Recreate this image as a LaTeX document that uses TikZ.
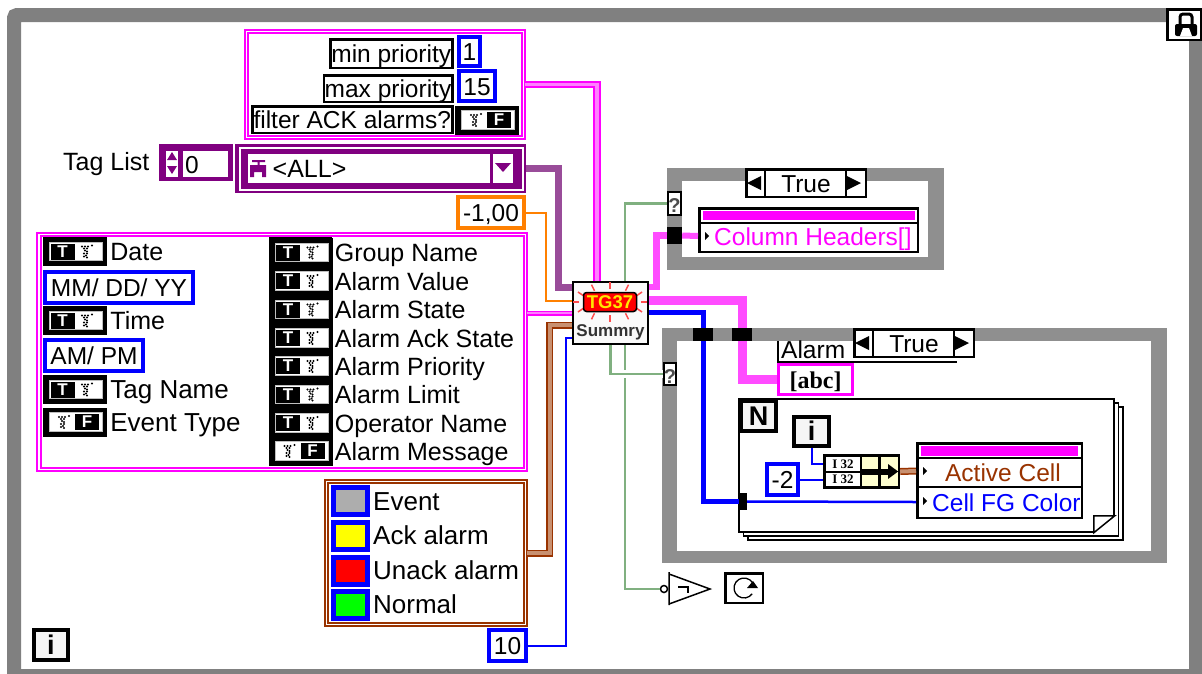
\documentclass[tikz,border=0pt]{standalone}
\usepackage{fontspec}
\setmainfont{Liberation Sans}
\newfontfamily\serf{Liberation Serif}
\usetikzlibrary{arrows.meta,positioning,calc}
\definecolor{pnk}{HTML}{FF00FF}
\definecolor{pnkl}{HTML}{FF4CFF}
\definecolor{pnkc}{HTML}{FF80FF}
\definecolor{prp}{HTML}{800080}
\definecolor{prpw}{HTML}{994C99}
\definecolor{orng}{HTML}{FF8000}
\definecolor{brwn}{HTML}{993300}
\definecolor{brwl}{HTML}{C89070}
\definecolor{blu}{HTML}{0000FF}
\definecolor{grn}{HTML}{80B080}
\definecolor{frm}{HTML}{808080}
\definecolor{csg}{HTML}{8F8F8F}
\definecolor{colev}{HTML}{ADADAD}
\definecolor{colack}{HTML}{FFFF00}
\definecolor{colun}{HTML}{FF0000}
\definecolor{colok}{HTML}{00FF00}
\definecolor{paley}{HTML}{FFFFD0}
\newcommand{\lblfont}{\fontsize{24.5}{26}\selectfont}
\tikzset{
  sz/.style 2 args={minimum width=#1, minimum height=#2},
  lbl/.style={font=\lblfont, inner sep=0pt, text height=18pt, text depth=0pt},
  lblm/.style={lbl, font=\fontsize{25}{26}\selectfont},
  lblw/.style={lbl, font=\fontsize{26}{27}\selectfont},
  tbox/.style={lbl, draw=black, line width=2.5pt, fill=white},
  cbox/.style={lbl, draw=blu, line width=4pt, fill=white},
  oconst/.style={lbl, draw=orng, line width=4pt, fill=white},
  icon/.style={lbl, draw=black, line width=4pt, fill=black!4, font=\fontsize{27}{27}\selectfont\bfseries},
  clu/.style={inner sep=0pt, draw=pnk, double=white, line width=2.2pt, double distance=1.4pt},
  cluwarm/.style={clu, draw=brwn},
  casef/.style={inner sep=0pt, fill=csg},
  casei/.style={inner sep=0pt, fill=white},
  tun/.style={inner sep=0pt, fill=black},
  selq/.style={lbl, draw=black, line width=2pt, fill=white, font=\fontsize{20}{20}\selectfont\bfseries, text=black!70},
  bar/.style={inner sep=0pt, fill=pnk},
  sheet/.style={inner sep=0pt, draw=black, line width=1.5pt, fill=white, sz={375pt}{133pt}},
  tfbox/.style={inner sep=0pt, fill=black, sz={64pt}{29pt}},
  tfin/.style={inner sep=0pt, draw=black!25, line width=1pt, fill=white, sz={53pt}{18.5pt}},
  tfkey/.style={inner sep=0pt, fill=black, text=white, sz={24pt}{16pt}, font=\fontsize{17}{17}\selectfont\bfseries},
  swatch/.style={inner sep=0pt, draw=blu, line width=5pt, sz={34pt}{27pt}},
  wire/.style={line width=2pt},
  wirep/.style={wire, draw=pnkl, line width=9pt},
  wirec/.style={draw=pnk, double=pnkc, line width=2pt, double distance=3.5pt},
  wirew/.style={draw=brwn, double=brwl, line width=1.5pt, double distance=4pt},
  wireb/.style={wire, draw=blu},
  wireg/.style={wire, draw=grn, line width=2.5pt},
  halo/.style={preaction={draw=white, line width=8pt}},
}
% T and F constants: name, position
\newcommand{\tree}[1]{%
  \foreach \dx/\dy in {-4/-5,-1/-5,2/-5,6/-6,-2/-3,1/-3,-1/-1,1/0,-2/2,1/2,0/4,-2/5,1/6}
    \fill[black] ([shift={(\dx,\dy)}]#1) circle (1.1pt);
}
\newcommand{\tconst}[2]{%
  \node[tfbox] (#1) at #2 {};
  \node[tfin] (#1in) at ([xshift=1pt]#1.center) {};
  \node[tfkey] (#1key) at ([xshift=-12.5pt]#1.center) {T};
  \coordinate (#1tr) at ([xshift=11pt]#1.center);
  \tree{#1tr}
}
\newcommand{\fconst}[2]{%
  \node[tfbox] (#1) at #2 {};
  \node[tfin] (#1in) at ([xshift=1pt]#1.center) {};
  \node[tfkey] (#1key) at ([xshift=12pt]#1.center) {F};
  \coordinate (#1tr) at ([xshift=-12pt]#1.center);
  \tree{#1tr}
}
% case selector: name, position
\newcommand{\casesel}[2]{%
  \node[tbox, sz={119.5pt}{27.5pt}] (#1) at #2 {True};
  \draw[line width=2.5pt] ([xshift=-41pt]#1.north) -- ([xshift=-41pt]#1.south);
  \draw[line width=2.5pt] ([xshift=40pt]#1.north) -- ([xshift=40pt]#1.south);
  \fill ([xshift=-59pt]#1.center) -- ([shift={(-45pt,7pt)}]#1.center) -- ([shift={(-45pt,-7pt)}]#1.center) -- cycle;
  \fill ([xshift=55pt]#1.center) -- ([shift={(41pt,7pt)}]#1.center) -- ([shift={(41pt,-7pt)}]#1.center) -- cycle;
}
\newcommand{\ptri}[1]{\fill ([shift={(-2pt,4pt)}]#1) -- ([xshift=2pt]#1) -- ([shift={(-2pt,-4pt)}]#1) -- cycle;}
\begin{document}
\begin{tikzpicture}[x=1pt,y=-1pt]
  \useasboundingbox (0,0) rectangle (1202,673);
  % frames
  \node[inner sep=0pt, draw=frm, line width=14pt, rounded corners=3pt, sz={1182pt}{661pt}] (outer) at (605,345.5) {};
  \node[casef, sz={277pt}{102pt}] (casea) at (805.5,219) {};
  \node[casei, sz={246pt}{76pt}] (caseai) at (805,219) {};
  \node[casef, sz={505pt}{235pt}] (caseb) at (914.5,445.5) {};
  \node[casei, sz={474pt}{210pt}] (casebi) at (914,446) {};

  % priority cluster
  \node[clu, sz={277pt}{106pt}] (clua) at (385,84.5) {};
  \node[tbox, sz={122pt}{28.5pt}] (tmin) at (391.25,53.5) {min priority};
  \node[tbox, sz={128.5pt}{26.5pt}] (tmax) at (388,88.5) {max priority};
  \node[tbox, sz={200pt}{26.5pt}] (tfilt) at (352.25,119.5) {filter ACK alarms?};
  \node[cbox, sz={21pt}{29pt}] (cone) at (469.5,51.5) {1};
  \node[cbox, sz={36pt}{30pt}] (cfift) at (477,86) {15};
  \fconst{filtf}{(487,120)}

  % tag list
  \node[lblm, anchor=west] (taglbl) at (63,161) {Tag List};
  \node[inner sep=0pt, fill=prp, sz={74pt}{37pt}] (idx) at (196,162.5) {};
  \node[inner sep=0pt, fill=white, sz={45pt}{26pt}] (idxv) at (205.5,164) {};
  \node[inner sep=0pt, fill=white, sz={12pt}{26pt}] (idxs) at (172,164) {};
  \fill[prp] (172,152) -- (177,160) -- (167,160) -- cycle;
  \fill[prp] (172,174) -- (177,166) -- (167,166) -- cycle;
  \node[lbl, anchor=west] (idxz) at (185,164) {0};
  \node[inner sep=0pt, fill=prp, sz={291pt}{49pt}] (tago) at (380.5,168.5) {};
  \node[inner sep=0pt, draw=white, line width=2pt, sz={283pt}{42pt}] (tagl) at (381.5,169) {};
  \node[inner sep=0pt, fill=white, sz={265pt}{29pt}] (tagi) at (380.5,168.5) {};
  \draw[prp, line width=3pt] ([xshift=111pt]tagi.north) -- ([xshift=111pt]tagi.south);
  \fill[prp] (495,163) -- (511,163) -- (503,172) -- cycle;
  \fill[prp] (252,160) rectangle (265,162) (257.5,160) rectangle (259.5,166) (250,165) rectangle (266,172)
    (250,172) rectangle (254,177) (262,172) rectangle (266,177);
  \node[lblm, anchor=west] (tagall) at (272.5,168) {<ALL>};
  \node[oconst, sz={66pt}{31pt}] (tout) at (491,212.5) {-1,00};

  % format cluster
  \node[clu, sz={486.5pt}{235pt}] (club) at (282.25,352) {};
  \tconst{date}{(75,251.5)}
  \node[lblm, right=3pt of date] (datel) {Date};
  \node[cbox, sz={148pt}{31pt}] (mdy) at (119,287.5) {MM/ DD/ YY};
  \tconst{time}{(75,320.5)}
  \node[lblm, right=3pt of time] (timel) {Time};
  \node[cbox, sz={98pt}{31pt}] (ampm) at (94,355.5) {AM/ PM};
  \tconst{tagn}{(75,389.5)}
  \node[lblw, right=3pt of tagn] (tagnl) {Tag Name};
  \fconst{evt}{(75,422)}
  \node[lblw, right=3pt of evt] (evtl) {Event Type};
  \node[inner sep=0pt, fill=black, sz={63pt}{227pt}] (tcol) at (300.5,350.5) {};
  \foreach \nm/\y/\txt in {grp/252.5/Group Name, aval/281/Alarm Value, ast/309.5/Alarm State,
      aack/338/Alarm Ack State, apri/366/Alarm Priority, alim/394.5/Alarm Limit, oper/423/Operator Name}{
    \tconst{\nm}{(300.5,\y)}
    \node[lblm, right=2pt of \nm] (\nm l) {\txt};
  }
  \fconst{amsg}{(300.5,451)}
  \node[lblm, right=2pt of amsg] (amsgl) {Alarm Message};

  % colour cluster
  \node[cluwarm, sz={199pt}{143pt}] (cluc) at (426,553) {};
  \foreach \nm/\y/\col/\txt in {ev/501/colev/Event, ack/535.5/colack/Ack alarm, un/570.5/colun/Unack alarm, ok/604.5/colok/Normal}{
    \node[swatch, fill=\col] (\nm) at (350.5,\y) {};
    \node[lblw, right=3pt of \nm] (\nm l) {\txt};
  }
  \node[cbox, sz={37pt}{31pt}] (ten) at (507.5,645.5) {10};
  \node[icon, sz={34pt}{30pt}] (iout) at (51,645) {i};

  % lock
  \node[inner sep=0pt, draw=black, line width=2.5pt, fill=white, sz={33.5pt}{30.5pt}] (lock) at (1184,24.5) {};
  \draw[line width=3pt, rounded corners=3pt] (1180,25) -- (1180,14) -- (1192,14) -- (1192,25);
  \fill[rounded corners=2pt] (1175,24) rectangle (1197,36);
  \fill[white] (1183,28) -- (1189,28) -- (1192,36) -- (1180,36) -- cycle;

  % summary vi
  \node[inner sep=0pt, draw=black, line width=2pt, fill=black!2, sz={75pt}{62pt}] (summ) at (610.5,313) {};
  \coordinate (tgc) at (610,302);
  \foreach \a in {0,30,...,330}
    \draw[red!70, line width=1.5pt] ($(tgc)+(\a:31 and 13)$) -- ($(tgc)+(\a:37 and 20)$);
  \node[inner sep=0pt, draw=black, line width=1.5pt, fill=colun, rounded corners=3pt, text=yellow!90!orange,
    font=\fontsize{18.5}{18.5}\selectfont\bfseries, sz={53pt}{19pt}] (tg) at (tgc) {TG37};
  \node[inner sep=0pt, text=black!80, font=\fontsize{17}{17}\selectfont\bfseries] (summl) at (610.5,332) {Summry};

  % upper case
  \casesel{sela}{(806,183)}
  \node[selq, sz={13pt}{23pt}] (qa) at (674.5,203.5) {?};
  \node[tun, sz={15pt}{17pt}] (tuna) at (674.5,235.5) {};
  \node[tbox, sz={218.5pt}{43.5pt}] (propa) at (808.5,230) {};
  \node[bar, sz={212pt}{9pt}] (bara) at (809,215.5) {};
  \draw[line width=2.5pt] ([yshift=7pt]propa.west) -- ([yshift=7pt]propa.east);
  \coordinate (trc) at (707,236);
  \ptri{trc}
  \node[lbl, anchor=west, text=pnk] (colh) at (714,236) {Column Headers[]};

  % lower case
  \coordinate (albl) at (778,341);
  \coordinate (albr) at (957,362);
  \draw[line width=2.5pt] (albl) |- (albr);
  \node[lbl, anchor=west] (alrm) at (781,349) {Alarm};
  \casesel{selb}{(914,343)}
  \node[selq, sz={12pt}{22pt}] (qb) at (670,374) {?};
  \node[tun, sz={20pt}{13pt}] (tunb) at (703,334.5) {};
  \node[tun, sz={20pt}{13pt}] (tunp) at (742,334.5) {};
  \node[lbl, draw=pnk, line width=3pt, fill=white, sz={74pt}{30pt}, font=\serf\bfseries\fontsize{24}{24}\selectfont] (abc) at (815.5,379.5) {[abc]};

  % for loop
  \node[sheet] (lpc) at (935.5,473.5) {};
  \node[sheet] (lpb) at (931,469.5) {};
  \node[sheet] (lpa) at (926.5,465.5) {};
  \fill[white] ([xshift=-21pt]lpa.south east) -- ([yshift=17pt]lpa.south east) -- (lpa.south east) -- cycle;
  \draw[line width=1.5pt] ([xshift=-21pt]lpa.south east) -- ([shift={(-21pt,17pt)}]lpa.south east) -- ([yshift=17pt]lpa.south east) -- cycle;
  \node[icon, sz={35pt}{30pt}] (nlp) at (758.5,416) {N};
  \node[icon, sz={35pt}{29pt}] (ilp) at (811.5,431.5) {i};
  \node[cbox, sz={31pt}{31pt}] (mtwo) at (782.5,479.5) {-2};
  \node[tun, sz={8pt}{17pt}] (lptun) at (743,501.5) {};

  % bundle
  \node[tun, sz={77pt}{35pt}] (bund) at (861.5,471.5) {};
  \foreach \nm/\y in {ia/464, ib/479.5}
    \node[inner sep=0pt, fill=white, sz={34pt}{13.5pt}, font=\serf\bfseries\fontsize{13}{13}\selectfont] (\nm) at (843,\y) {I 32};
  \node[inner sep=0pt, fill=paley, sz={16pt}{29pt}] (ya) at (870,471.5) {};
  \node[inner sep=0pt, fill=paley, sz={17pt}{29pt}] (yb) at (889.5,471.5) {};
  \draw[line width=6pt, -{Triangle[length=10pt,width=14pt]}] (ya.west) -- (yb.east);

  \node[tbox, sz={164.5pt}{74.5pt}] (propb) at (999.5,480.5) {};
  \node[bar, sz={157pt}{10pt}] (barb) at (999.5,451) {};
  \draw[line width=2.5pt] ([yshift=22.5pt]propb.west) -- ([yshift=22.5pt]propb.east);
  \draw[line width=2.5pt] ([yshift=-6.5pt]propb.west) -- ([yshift=-6.5pt]propb.east);
  \coordinate (trd) at (925,471);
  \ptri{trd}
  \coordinate (tre) at (925,501);
  \ptri{tre}
  \node[lbl, text=brwn] (actc) at (1003,472) {Active Cell};
  \node[lbl, anchor=west, text=blu] (fgc) at (932,502) {Cell FG Color};

  % not and stop
  \node[inner sep=0pt, draw=black, line width=1.5pt, fill=white, circle, minimum size=7pt] (notg) at (664,589) {};
  \draw[line width=1.5pt] (669,572) -- (669,605) (669,574) -- (710,589) -- (669,604);
  \draw[line width=2pt] (678,587) -- (688,587) -- (688,593);
  \node[inner sep=0pt, draw=black, line width=2.5pt, fill=white, sz={37.5pt}{29.5pt}] (stopb) at (744,588) {};
  \draw[line width=1.3pt] ([shift={(-35:10pt)}]stopb.center) arc (-35:-335:10pt);
  \fill ([shift={(3pt,0pt)}]stopb.center) -- ([shift={(14pt,0pt)}]stopb.center) -- ([shift={(9pt,7pt)}]stopb.center) -- cycle;

  % wires
  \draw[wirec] (clua.east) -| ([xshift=-13.5pt]summ.north);
  \draw[prpw, line width=7pt] (tago.east) -- ++(32.5,0) |- ([yshift=26pt]summ.west);
  \draw[wire, orng] (tout.east) -- ++(20,0) |- ([yshift=12pt]summ.west);
  \draw[draw=pnk, double=pnkc, line width=1.5pt, double distance=2pt] (summ.west) -- (summ.west -| club.east);
  \draw[wirew] (cluc.east) -- ++(23,0) |- ([yshift=-12pt]summ.west);
  \draw[wireb] (ten.east) -- ++(38,0) |- ([yshift=-25pt]summ.west);
  \draw[wireg] ([xshift=14.5pt]summ.north) |- (qa.west);
  \draw[wireg] ([xshift=14.5pt]summ.south) |- (notg.west);
  \draw[wireg, halo] (summ.south) |- (qb.west);
  \draw[draw=pnkl, line width=6.5pt] ([yshift=26pt]summ.east) -- ++(7.5,0) |- (tuna.west);
  \draw[draw=pnkl, line width=6pt] (tuna.east) -- ([yshift=-6pt]propa.west);
  \draw[wirep] ([yshift=13pt]summ.east) -| (tunp.north);
  \draw[wirep] (tunp.south) |- (abc.west);
  \draw[wireb, line width=5pt] ([yshift=1pt]summ.east) -| (tunb.north);
  \draw[wireb, line width=5pt] (tunb.south) |- (lptun.west);
  \draw[wireb, line width=2.5pt] (lptun.east) -- ([yshift=-21.5pt]propb.west);
  \draw[wireb] (ilp.south) |- ([yshift=8pt]bund.west);
  \draw[wireb] (mtwo.east) -- ([yshift=-8pt]bund.west);
  \draw[wirew] (bund.east) -- ([yshift=9.5pt]propb.west);
\end{tikzpicture}
\end{document}
